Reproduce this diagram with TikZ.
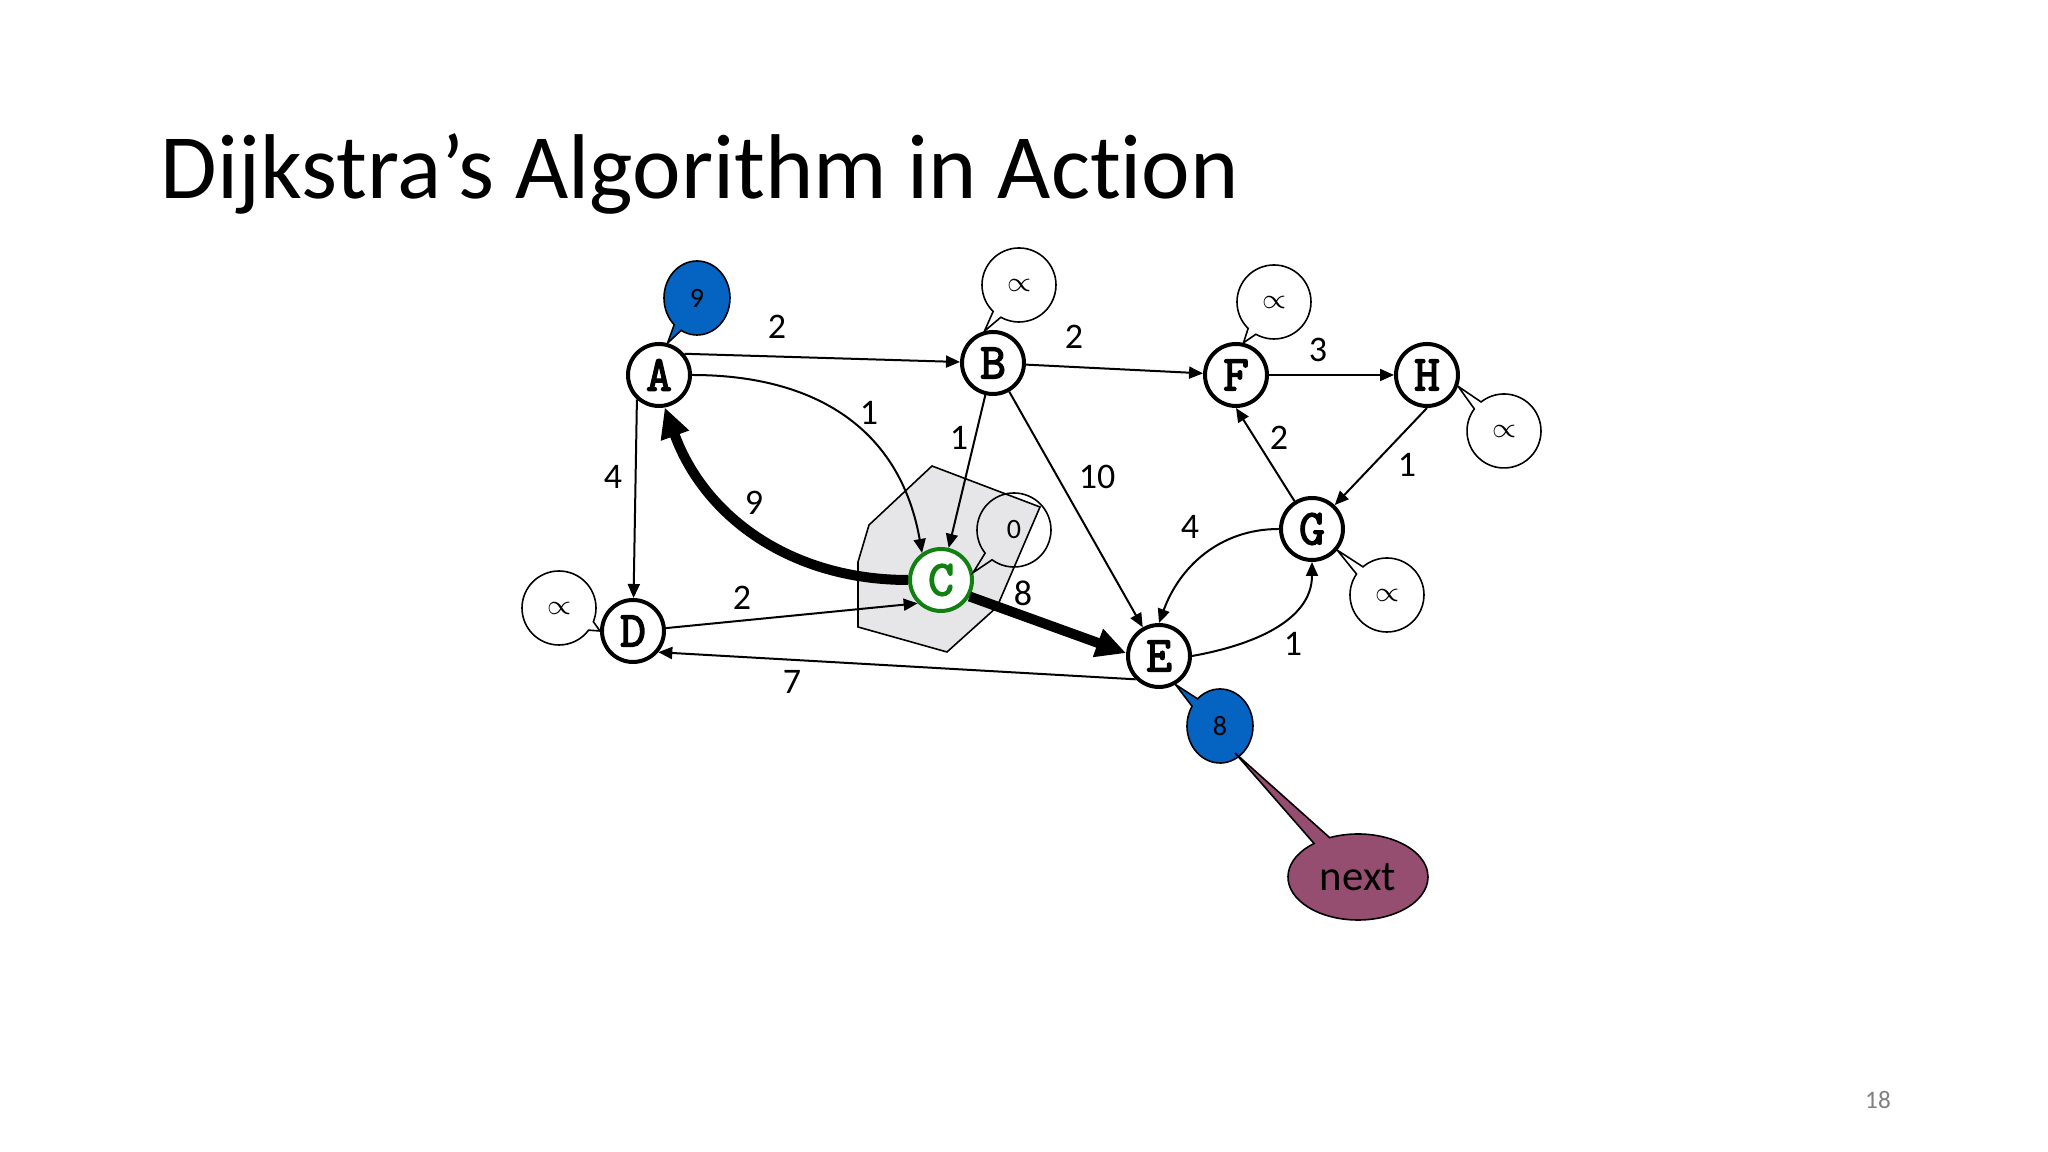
\documentclass[tikz,border=0pt]{standalone}
\usepackage{fontspec}
\setmainfont{Carlito}[Ligatures=NoCommon]
\newfontfamily\codefont{Latin Modern Mono}[FakeBold=3]
\usetikzlibrary{arrows.meta,shapes.callouts}
\definecolor{distblue}{RGB}{5,99,193}
\definecolor{nextplum}{RGB}{150,78,112}
\definecolor{regiongray}{RGB}{230,230,232}
\definecolor{visitgreen}{RGB}{16,128,16}
\tikzset{
  >={Triangle[length=3.5pt,width=3pt]},
  v/.style={circle,draw,line width=1pt,fill=white,minimum size=15.5pt,inner sep=0pt,font=\fontsize{12.5}{13}\codefont},
  e/.style={->,line width=0.5pt},
  hv/.style={-{Triangle[length=7.5pt,width=7pt]},line width=2.5pt},
  lbl/.style={inner sep=0pt,font=\fontsize{9}{10}\selectfont},
  bub/.style={ellipse callout,draw,line width=0.4pt,minimum width=18.5pt,minimum height=18.5pt,inner sep=0pt,font=\fontsize{7}{8}\selectfont},
  dist/.style={bub,fill=distblue,minimum width=16.5pt},
}
\begin{document}
\begin{tikzpicture}[x=0.25pt,y=0.25pt]
\useasboundingbox (0,0) rectangle (2048,-1152);
\node[anchor=base west,inner sep=0pt,font=\fontsize{23}{28}\selectfont] (title) at (160,-199) {Dijkstra’s Algorithm in Action};
\node[text=gray,font=\fontsize{6.3}{7}\selectfont] (pg) at (1878,-1100) {18};
% visited region
\draw[fill=regiongray,line width=0.4pt] (932,-466) -- (1040,-507) -- (997,-607) -- (947,-652) -- (858,-627) -- (858,-562) -- (869,-525) -- cycle;
\foreach \n/\x/\y in {A/659/375,B/993/363,F/1236/375,H/1427/375,D/633/631,E/1159/656,G/1312/529}{\node[v] (\n) at (\x,-\y) {\n};}
\node[v,draw=visitgreen,text=visitgreen] (C) at (941,-580) {C};
\draw[e] (A.40) -- (B); \draw[e] (A.0) to[out=0,in=100,looseness=1.1] (C.125); \draw[e] (A.228) -- (D);
\draw[e] (B) -- (C); \draw[e] (B) -- (E); \draw[e] (B) -- (F); \draw[e] (F) -- (H);
\draw[e] (H.270) -- (G); \draw[e] (G) -- (F.270); \draw[e] (D.5) -- (C.225); \draw[e] (E.225) -- (D.-40);
\draw[e] (G.180) to[out=180,in=70] (E.90); \draw[e] (E.0) to[out=10,in=-90] (G.-90);
\draw[hv] (C.180) to[out=180,in=-70] (A.-80); \draw[hv] (C.-30) -- (E.175);
\foreach \n/\x/\y/\t in {wAB/777/327/2,wAC/869/413/1,wBC/959/438/1,wBF/1074/337/2,wFH/1318/350/3,wGF/1279/438/2,wHG/1407/465/1,wBE/1097/477/10,wAD/613/477/4,wCA/754/503/9,wDC/742/598/2,wCE/1023/593/8,wED/792/682/7,wGE/1190/527/4,wEG/1293/644/1}{\node[lbl] (\n) at (\x,-\y) {\t};}
% distance bubbles
\foreach \n/\x/\y/\p in {dB/1019/285/B.105,dF/1274/302/F.77,dH/1504/431/H.-20,dG/1387/595/G.-40,dD/559/608/D.180}{\node[bub,callout absolute pointer={(\p)}] (\n) at (\x,-\y) {$\propto$};}
\node[bub,callout absolute pointer={(C.13)}] (dC) at (1014,-530) {0};
\node[dist,callout absolute pointer={(A.75)}] (dA) at (697,-298) {9};
\node[dist,callout absolute pointer={(E.-60)}] (dE) at (1220,-726) {8};
\coordinate (tipN) at (1235,-753);
\node[ellipse callout,draw,line width=0.4pt,fill=nextplum,minimum width=35pt,minimum height=21.5pt,inner sep=0pt,font=\fontsize{10.7}{12}\selectfont,callout absolute pointer={(tipN)}] (nxt) at (1358,-877) {next};
\end{tikzpicture}
\end{document}
